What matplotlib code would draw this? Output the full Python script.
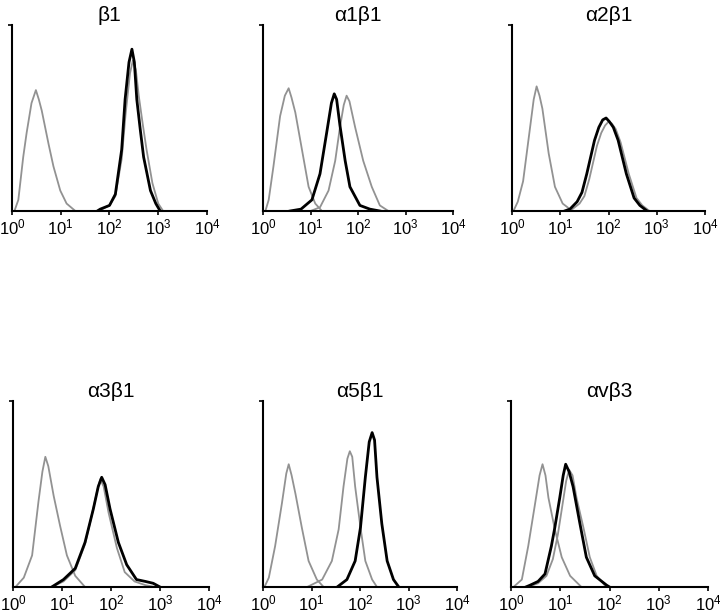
import numpy as np
import matplotlib
matplotlib.use("Agg")
import matplotlib.pyplot as plt

plt.rcParams['font.family'] = ['Liberation Sans', 'DejaVu Sans']
plt.rcParams['mathtext.default'] = 'regular'

# x values are log10(fluorescence), y values are relative cell counts (0-100)
titles = ["β1", "α1β1", "α2β1", "α3β1", "α5β1", "αvβ3"]

# --- β1
b1_ctrl_x = [0.05, 0.13, 0.23, 0.30, 0.40, 0.49, 0.55, 0.61, 0.68, 0.75, 0.85, 0.99, 1.12, 1.30]
b1_ctrl_y = [0, 6, 29, 42, 58, 65, 60, 54, 45, 36, 24, 11, 4, 0]
b1_gray_x = [1.75, 1.85, 2.00, 2.12, 2.25, 2.33, 2.42, 2.48, 2.54, 2.60, 2.68, 2.76, 2.88, 3.00, 3.10]
b1_gray_y = [0, 1, 3, 8, 28, 52, 74, 81, 76, 62, 47, 33, 15, 4, 0]
b1_blk_x = [1.75, 1.81, 2.00, 2.12, 2.25, 2.32, 2.40, 2.46, 2.51, 2.56, 2.63, 2.70, 2.84, 2.95, 3.04]
b1_blk_y = [0, 1, 3, 9, 33, 60, 80, 87, 80, 60, 44, 29, 11, 4, 0]

# --- α1β1
a1_ctrl_x = [0.05, 0.12, 0.22, 0.36, 0.46, 0.54, 0.60, 0.68, 0.82, 0.96, 1.10, 1.24]
a1_ctrl_y = [0, 6, 24, 51, 62, 66, 61, 53, 33, 13, 4, 0]
a1_gray_x = [1.00, 1.20, 1.38, 1.52, 1.62, 1.70, 1.76, 1.82, 1.94, 2.11, 2.29, 2.46, 2.64]
a1_gray_y = [0, 2, 11, 27, 45, 57, 62, 59, 45, 27, 13, 3, 0]
a1_blk_x = [0.57, 0.80, 1.03, 1.20, 1.34, 1.44, 1.50, 1.55, 1.62, 1.73, 1.83, 2.04, 2.25, 2.46]
a1_blk_y = [0, 1, 6, 20, 42, 58, 63, 60, 46, 27, 13, 3, 1, 0]

# --- α2β1
a2_ctrl_x = [0.03, 0.12, 0.23, 0.36, 0.45, 0.51, 0.57, 0.63, 0.76, 0.89, 1.05, 1.25]
a2_ctrl_y = [0, 5, 16, 42, 60, 67, 62, 55, 31, 13, 4, 0]
a2_gray_x = [1.12, 1.25, 1.40, 1.50, 1.60, 1.68, 1.76, 1.85, 1.93, 2.00, 2.07, 2.15, 2.25, 2.42, 2.58, 2.70, 2.85]
a2_gray_y = [0, 1, 4, 8, 17, 26, 35, 42, 46, 48, 47, 44, 37, 20, 7, 3, 0]
a2_blk_x = [1.09, 1.20, 1.35, 1.45, 1.55, 1.63, 1.71, 1.80, 1.88, 1.95, 2.02, 2.10, 2.20, 2.37, 2.53, 2.65, 2.80]
a2_blk_y = [0, 1, 5, 10, 20, 29, 38, 45, 49, 50, 48, 45, 38, 20, 7, 3, 0]

# --- α3β1
a3_ctrl_x = [0.05, 0.22, 0.39, 0.52, 0.60, 0.66, 0.72, 0.83, 0.96, 1.10, 1.27, 1.47]
a3_ctrl_y = [0, 5, 17, 46, 62, 70, 65, 49, 33, 17, 6, 0]
a3_gray_x = [0.79, 1.03, 1.27, 1.47, 1.62, 1.72, 1.78, 1.85, 1.95, 2.12, 2.28, 2.48, 2.70, 2.90]
a3_gray_y = [0, 3, 9, 23, 40, 52, 58, 54, 40, 21, 8, 3, 1, 0]
a3_blk_x = [0.79, 1.03, 1.27, 1.47, 1.64, 1.74, 1.81, 1.88, 1.98, 2.15, 2.32, 2.52, 2.70, 2.86, 3.00]
a3_blk_y = [0, 4, 10, 24, 42, 54, 59, 55, 42, 24, 12, 4, 3, 2, 0]

# --- α5β1
a5_ctrl_x = [0.03, 0.12, 0.25, 0.39, 0.48, 0.53, 0.59, 0.67, 0.80, 0.94, 1.11, 1.25]
a5_ctrl_y = [0, 5, 22, 45, 61, 66, 60, 50, 32, 14, 4, 0]
a5_gray_x = [0.91, 1.22, 1.42, 1.56, 1.66, 1.74, 1.79, 1.84, 1.90, 2.01, 2.11, 2.25, 2.35]
a5_gray_y = [0, 4, 14, 31, 54, 69, 73, 70, 54, 32, 14, 4, 0]
a5_blk_x = [1.53, 1.73, 1.90, 2.01, 2.11, 2.19, 2.25, 2.30, 2.35, 2.45, 2.56, 2.69, 2.80]
a5_blk_y = [0, 4, 14, 32, 59, 78, 83, 79, 59, 34, 14, 4, 0]

# --- αvβ3
av_ctrl_x = [0.05, 0.22, 0.35, 0.49, 0.58, 0.64, 0.70, 0.76, 0.89, 1.03, 1.20, 1.43]
av_ctrl_y = [0, 4, 22, 45, 60, 66, 60, 48, 31, 16, 6, 0]
av_gray_x = [0.35, 0.55, 0.72, 0.85, 0.95, 1.05, 1.12, 1.18, 1.25, 1.33, 1.47, 1.60, 1.74, 1.90, 2.00]
av_gray_y = [0, 2, 6, 15, 28, 45, 57, 63, 60, 48, 32, 16, 6, 1, 0]
av_blk_x = [0.30, 0.39, 0.55, 0.69, 0.82, 0.89, 0.99, 1.06, 1.11, 1.18, 1.26, 1.40, 1.53, 1.70, 1.94, 2.00]
av_blk_y = [0, 1, 3, 7, 22, 32, 48, 60, 66, 62, 54, 34, 16, 6, 1, 0]

panels = [
    (b1_ctrl_x, b1_ctrl_y, b1_gray_x, b1_gray_y, b1_blk_x, b1_blk_y),
    (a1_ctrl_x, a1_ctrl_y, a1_gray_x, a1_gray_y, a1_blk_x, a1_blk_y),
    (a2_ctrl_x, a2_ctrl_y, a2_gray_x, a2_gray_y, a2_blk_x, a2_blk_y),
    (a3_ctrl_x, a3_ctrl_y, a3_gray_x, a3_gray_y, a3_blk_x, a3_blk_y),
    (a5_ctrl_x, a5_ctrl_y, a5_gray_x, a5_gray_y, a5_blk_x, a5_blk_y),
    (av_ctrl_x, av_ctrl_y, av_gray_x, av_gray_y, av_blk_x, av_blk_y),
]

# axes boxes in pixels: (left, right, top, bottom)
W, H = 720, 614
boxes = [(12, 207, 25, 211), (263, 453, 25, 211), (512, 705, 25, 211),
         (13, 209, 401, 587), (263, 457, 401, 587), (511, 708, 401, 587)]

fig = plt.figure(figsize=(W / 100, H / 100), dpi=100)
GRAY = "#929292"

for (l, r, t, b), title, data in zip(boxes, titles, panels):
    ax = fig.add_axes([l / W, 1 - b / H, (r - l) / W, (b - t) / H])
    cx, cy, gx, gy, kx, ky = data
    ax.plot(10 ** np.array(cx), cy, color=GRAY, lw=1.3)
    ax.plot(10 ** np.array(gx), gy, color=GRAY, lw=1.3)
    ax.plot(10 ** np.array(kx), ky, color="black", lw=2.0)

    ax.set_xscale("log")
    ax.set_xlim(1, 1e4)
    ax.set_ylim(0, 100)
    ax.set_xticks([1, 10, 100, 1000, 10000])
    ax.set_xticklabels(["10$^{%d}$" % i for i in range(5)], fontsize=12)
    ax.xaxis.set_minor_locator(matplotlib.ticker.NullLocator())
    ax.set_yticks([100])
    ax.set_yticklabels([])
    ax.tick_params(axis="x", length=3, width=1.2, pad=2)
    ax.tick_params(axis="y", length=3, width=1.2)
    for s in ("top", "right"):
        ax.spines[s].set_visible(False)
    for s in ("left", "bottom"):
        ax.spines[s].set_linewidth(1.5)
    ax.set_title(title, fontsize=15, pad=3)

fig.savefig("out.png", dpi=100)
